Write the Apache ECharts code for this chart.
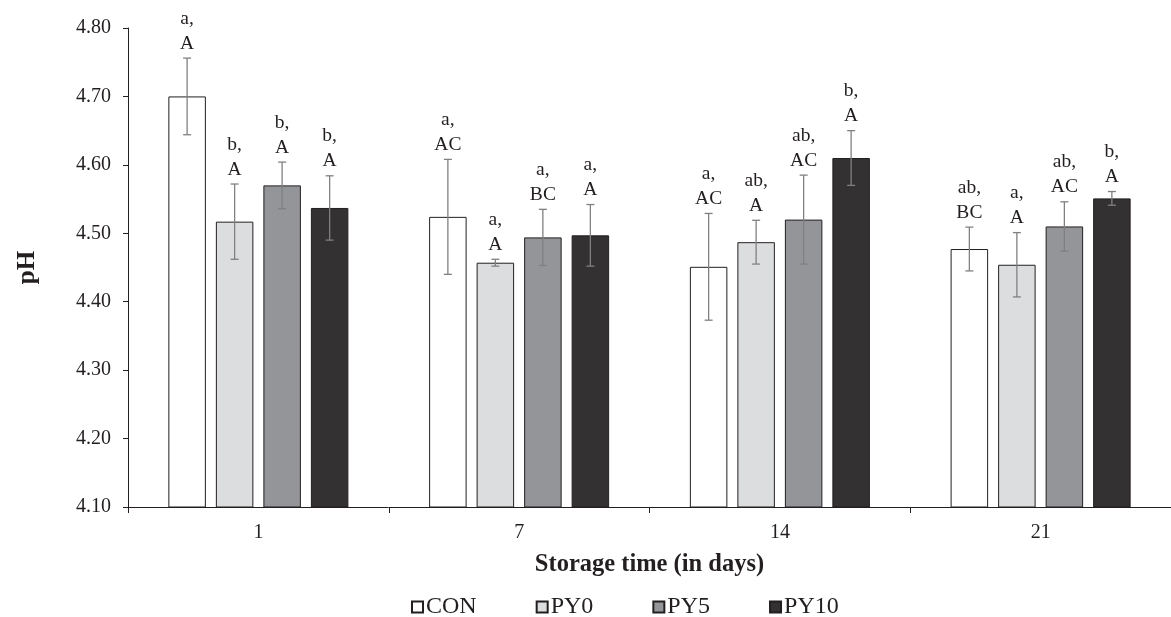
<!DOCTYPE html>
<html>
<head>
<meta charset="utf-8">
<script src="https://cdn.jsdelivr.net/npm/echarts@6/dist/echarts.min.js"></script>
<style>
html,body{margin:0;padding:0;background:#fff;}
#chart{width:1171px;height:617px;}
</style>
</head>
<body>
<div id="chart"></div>
<script>
const categories = ['1', '7', '14', '21'];
const seriesNames = ['CON', 'PY0', 'PY5', 'PY10'];
const yTicks = ['4.10', '4.20', '4.30', '4.40', '4.50', '4.60', '4.70', '4.80'];

const CON = [4.700, 4.524, 4.451, 4.477];
const PY0 = [4.517, 4.457, 4.487, 4.454];
const PY5 = [4.570, 4.494, 4.520, 4.510];
const PY10 = [4.537, 4.497, 4.610, 4.551];

const CON_err = [0.056, 0.084, 0.078, 0.032];
const PY0_err = [0.055, 0.005, 0.032, 0.047];
const PY5_err = [0.034, 0.041, 0.065, 0.036];
const PY10_err = [0.047, 0.045, 0.040, 0.010];

const CON_lbl = ['a,\nA', 'a,\nAC', 'a,\nAC', 'ab,\nBC'];
const PY0_lbl = ['b,\nA', 'a,\nA', 'ab,\nA', 'a,\nA'];
const PY5_lbl = ['b,\nA', 'a,\nBC', 'ab,\nAC', 'ab,\nAC'];
const PY10_lbl = ['b,\nA', 'a,\nA', 'b,\nA', 'b,\nA'];

const values = [CON, PY0, PY5, PY10];
const errs = [CON_err, PY0_err, PY5_err, PY10_err];
const lbls = [CON_lbl, PY0_lbl, PY5_lbl, PY10_lbl];
const fills = ['#ffffff', '#dcdddf', '#939598', '#333132'];

const FONT = '"Liberation Serif", "Times New Roman", serif';
const INK = '#231f20';
const BAR_W = 37.5;
const BAR_GAP = 10;

const chart = echarts.init(document.getElementById('chart'), null, {renderer: 'canvas'});

const series = [];
seriesNames.forEach((name, i) => {
  series.push({
    name: name,
    type: 'bar',
    data: values[i],
    barWidth: BAR_W,
    barGap: (BAR_GAP / BAR_W * 100).toFixed(2) + '%',
    itemStyle: {color: fills[i], borderColor: INK, borderWidth: 1},
    emphasis: {disabled: true},
    z: 2
  });
});
seriesNames.forEach((name, i) => {
  series.push({
    name: name + '_err',
    type: 'custom',
    z: 3,
    clip: false,
    data: categories.map((c, k) => [k, values[i][k], errs[i][k], lbls[i][k]]),
    encode: {x: 0, y: 1},
    renderItem: function (params, api) {
      const k = api.value(0);
      const v = api.value(1);
      const e = api.value(2);
      const off = (i - 1.5) * (BAR_W + BAR_GAP);
      const hi = api.coord([k, v + e]);
      const lo = api.coord([k, v - e]);
      const x = hi[0] + off;
      const cap = 4;
      const st = {stroke: '#808080', lineWidth: 1.3};
      return {
        type: 'group',
        children: [
          {type: 'line', shape: {x1: x, y1: hi[1], x2: x, y2: lo[1]}, style: st},
          {type: 'line', shape: {x1: x - cap, y1: hi[1], x2: x + cap, y2: hi[1]}, style: st},
          {type: 'line', shape: {x1: x - cap, y1: lo[1], x2: x + cap, y2: lo[1]}, style: st},
          {type: 'text', x: x, y: hi[1] - 2, style: {
            text: lbls[i][k], fill: INK, font: '19.5px ' + FONT,
            align: 'center', verticalAlign: 'bottom', lineHeight: 25
          }}
        ]
      };
    }
  });
});

chart.setOption({
  animation: false,
  backgroundColor: '#ffffff',
  grid: {left: 128, top: 28, width: 1046, height: 479, containLabel: false},
  legend: {
    data: seriesNames,
    left: 406,
    top: 590,
    icon: 'rect',
    itemWidth: 11,
    itemHeight: 11,
    itemGap: 59,
    textStyle: {fontFamily: FONT, fontSize: 24, color: INK, padding: [0, 0, 0, -2]}
  },
  xAxis: {
    type: 'category',
    data: categories,
    name: 'Storage time (in days)',
    nameLocation: 'middle',
    nameGap: 45,
    nameTextStyle: {fontFamily: FONT, fontSize: 24.5, fontWeight: 'bold', color: INK},
    axisLine: {lineStyle: {color: INK, width: 1}},
    axisTick: {show: true, length: 6, lineStyle: {color: INK}},
    axisLabel: {fontFamily: FONT, fontSize: 20, color: INK, margin: 16}
  },
  yAxis: {
    type: 'value',
    min: 4.1,
    max: 4.8,
    interval: 0.1,
    name: 'pH',
    nameLocation: 'middle',
    nameGap: 88,
    nameRotate: 90,
    nameTextStyle: {fontFamily: FONT, fontSize: 25, fontWeight: 'bold', color: INK},
    splitLine: {show: false},
    axisLine: {show: true, lineStyle: {color: INK, width: 1}},
    axisTick: {show: true, length: 5, lineStyle: {color: INK}},
    axisLabel: {
      fontFamily: FONT, fontSize: 20, color: INK, margin: 17,
      formatter: function (v) {
        const idx = Math.round((v - 4.1) / 0.1);
        return yTicks[idx] !== undefined ? yTicks[idx] : v.toFixed(2);
      }
    }
  },
  series: series
});
</script>
</body>
</html>
